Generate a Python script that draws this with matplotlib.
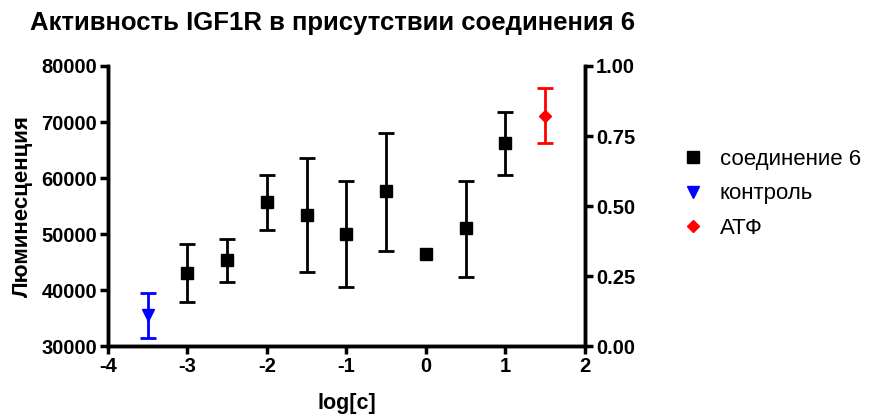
import numpy as np
import matplotlib
matplotlib.use("Agg")
import matplotlib.pyplot as plt
from matplotlib.ticker import FormatStrFormatter

plt.rcParams['font.family'] = ['Liberation Sans', 'DejaVu Sans']
plt.rcParams['axes.unicode_minus'] = False

# соединение 6 (у точки log[c]=0 планки погрешности нет)
x_cmp = [-3.0, -2.5, -2.0, -1.5, -1.0, -0.5, 0.0, 0.5, 1.0]
y_cmp = [43100, 45400, 55700, 53400, 50000, 57600, 46500, 51000, 66200]
y_cmp_hi = [48300, 49050, 60500, 63500, 59500, 68000, None, 59400, 71800]
y_cmp_lo = [37800, 41500, 50700, 43200, 40500, 47000, None, 42400, 60500]

# контроль
x_ctrl = [-3.5]
y_ctrl = [35500]
y_ctrl_hi = [39400]
y_ctrl_lo = [31400]

# АТФ
x_atp = [1.5]
y_atp = [71100]
y_atp_hi = [76100]
y_atp_lo = [66200]


def err(y, lo, hi):
    y = np.array(y, dtype=float)
    lo = np.array(lo, dtype=float)
    hi = np.array(hi, dtype=float)
    return [y - lo, hi - y]


fig = plt.figure(figsize=(8.69, 4.15), dpi=100)
ax = fig.add_axes([0.1243, 0.166, 0.5487, 0.675])

eb = dict(elinewidth=2.0, capsize=6, capthick=2.0, linestyle='none')
ax.errorbar(x_cmp, y_cmp, yerr=err(y_cmp, y_cmp_lo, y_cmp_hi), color='black',
            marker='s', markersize=8, label='соединение 6', **eb)
ax.errorbar(x_ctrl, y_ctrl, yerr=err(y_ctrl, y_ctrl_lo, y_ctrl_hi), color='#0000ff',
            marker='v', markersize=8, label='контроль', **eb)
ax.errorbar(x_atp, y_atp, yerr=err(y_atp, y_atp_lo, y_atp_hi), color='#ff0000',
            marker='D', markersize=6, label='АТФ', **eb)

ax.set_xlim(-4, 2)
ax.set_ylim(30000, 80000)
ax.set_xticks(np.arange(-4, 3, 1))
ax.set_yticks(np.arange(30000, 80001, 10000))

ax2 = ax.twinx()
ax2.set_ylim(0, 1)
ax2.set_yticks([0, 0.25, 0.5, 0.75, 1.0])
ax2.yaxis.set_major_formatter(FormatStrFormatter('%.2f'))

for a in (ax, ax2):
    for s in a.spines.values():
        s.set_linewidth(2.5)
    a.spines['top'].set_visible(False)
    a.tick_params(width=2.5, length=6, direction='out', labelsize=14.5, pad=2)
    for lbl in a.get_xticklabels() + a.get_yticklabels():
        lbl.set_fontweight('bold')

ax.set_xlabel('log[c]', fontsize=15.5, fontweight='bold', labelpad=12)
ax.set_ylabel('Люминесценция', fontsize=16, fontweight='bold', labelpad=6)
fig.text(0.035, 0.945, 'Активность IGF1R в присутствии соединения 6',
         fontsize=18.5, fontweight='bold', ha='left', va='center')

h, l = ax.get_legend_handles_labels()
h = [hh[0] for hh in h]
fig.legend(h, l, loc='upper left', bbox_to_anchor=(0.785, 0.642), frameon=False,
           fontsize=16, handlelength=1.0, handletextpad=0.7, labelspacing=0.62,
           borderaxespad=0, borderpad=0)

fig.savefig('out.png', dpi=100)
